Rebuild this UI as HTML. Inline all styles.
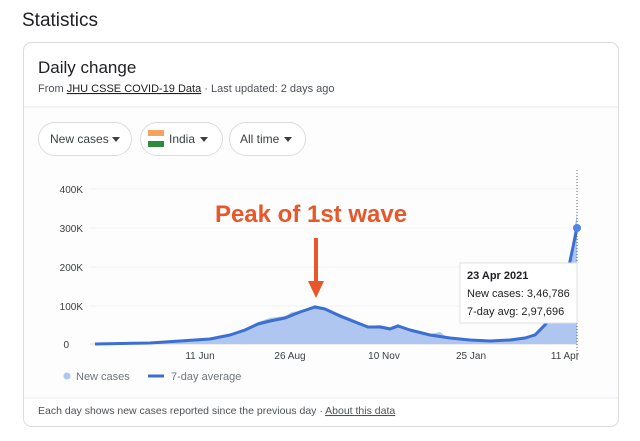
<!DOCTYPE html>
<html><head><meta charset="utf-8"><style>
body{margin:0;width:640px;height:436px;background:#fff;overflow:hidden;font-family:"Liberation Sans",Arial,sans-serif}
</style></head><body>
<svg width="640" height="436" viewBox="0 0 640 436" xmlns="http://www.w3.org/2000/svg" font-family="Liberation Sans, Arial, sans-serif">
<text x="22" y="26" font-size="19" fill="#202124">Statistics</text>
<rect x="23.5" y="42.5" width="595" height="384" rx="8" fill="#fff" stroke="#dadce0"/>
<rect x="24" y="107" width="594" height="290" fill="#fdfdfd"/>
<text x="38" y="73" font-size="17" fill="#202124">Daily change</text>
<text x="38" y="92" font-size="11" fill="#4d5156">From <tspan text-decoration="underline" fill="#202124">JHU CSSE COVID-19 Data</tspan> · Last updated: 2 days ago</text>
<line x1="24" y1="107" x2="618" y2="107" stroke="#e8eaed"/>
<rect x="38.5" y="122.5" width="93" height="33" rx="16.5" fill="#fff" stroke="#dadce0"/>
<text x="50" y="143" font-size="12" fill="#3c4043">New cases</text>
<path d="M112 137h8l-4 5z" fill="#3c4043"/>
<rect x="140.5" y="122.5" width="82" height="33" rx="16.5" fill="#fff" stroke="#dadce0"/>
<rect x="148" y="130" width="16" height="6" fill="#f4a460"/><rect x="148" y="136" width="16" height="5" fill="#fff"/><rect x="148" y="141" width="16" height="6" fill="#2e8b3a"/>
<text x="169" y="143" font-size="12" fill="#3c4043">India</text>
<path d="M200 137h8l-4 5z" fill="#3c4043"/>
<rect x="229.5" y="122.5" width="76" height="33" rx="16.5" fill="#fff" stroke="#dadce0"/>
<text x="240" y="143" font-size="12" fill="#3c4043">All time</text>
<path d="M284 137h8l-4 5z" fill="#3c4043"/>
<g font-size="10" fill="#3c4043" text-anchor="end">
<text x="83" y="193">400K</text><text x="83" y="232">300K</text><text x="83" y="271">200K</text><text x="83" y="310">100K</text><text x="69" y="348">0</text>
</g>
<g stroke="#f1f3f4"><line x1="90" y1="189" x2="577" y2="189"/><line x1="90" y1="228" x2="577" y2="228"/><line x1="90" y1="267" x2="577" y2="267"/><line x1="90" y1="306" x2="577" y2="306"/></g>
<line x1="90" y1="344" x2="577" y2="344" stroke="#dadce0"/>
<path d="M95 344L150 343L180 341L210 339L230 334L245 329L258 322L270 318L285 316L292 312L300 311L315 305L325 308L340 314L355 320L368 326L380 325L390 327L398 324L410 329L430 334L440 332L445 336L470 339L490 340L510 339L525 337L535 333L545 322L555 306L565 280L572 245L577 213L577 344Z" fill="#aec6f0"/>
<path d="M95 344L150 343L180 341L210 339L230 335L245 330L258 324L270 321L285 318L300 312L315 307L325 309L340 316L355 322L368 327L380 327L390 329L398 326L410 330L430 335L450 338L470 340L490 341L510 340L525 338L535 335L545 325L555 310L565 285L577 228" fill="none" stroke="#3b6fd1" stroke-width="3" stroke-linejoin="round"/>
<line x1="577" y1="170" x2="577" y2="362" stroke="#5f6368" stroke-dasharray="1,2"/>
<circle cx="577" cy="228" r="4" fill="#4f84e8"/>
<g font-size="10" fill="#3c4043" text-anchor="middle">
<text x="200" y="359">11 Jun</text><text x="290" y="359">26 Aug</text><text x="384" y="359">10 Nov</text><text x="471" y="359">25 Jan</text><text x="565" y="359">11 Apr</text>
</g>
<text x="311" y="222" font-size="24" font-weight="bold" fill="#e8572a" text-anchor="middle">Peak of 1st wave</text>
<line x1="316" y1="238" x2="316" y2="284" stroke="#e8572a" stroke-width="4"/>
<path d="M308 281h16l-8 17z" fill="#e8572a"/>
<rect x="460" y="263" width="117" height="60" fill="#fff" stroke="#e0e0e0"/>
<g font-size="11" fill="#202124"><text x="467" y="279" font-weight="bold">23 Apr 2021</text><text x="467" y="297">New cases: 3,46,786</text><text x="467" y="315">7-day avg: 2,97,696</text></g>
<circle cx="67" cy="376" r="3.5" fill="#aec6f0"/>
<text x="76" y="380" font-size="11" fill="#70757a">New cases</text>
<line x1="148" y1="376" x2="164" y2="376" stroke="#3b6fd1" stroke-width="3"/>
<text x="171" y="380" font-size="11" fill="#70757a">7-day average</text>
<line x1="24" y1="398" x2="618" y2="398" stroke="#e8eaed"/>
<text x="38" y="414" font-size="10.5" fill="#4d5156">Each day shows new cases reported since the previous day  ·  <tspan text-decoration="underline">About this data</tspan></text>
</svg>
</body></html>
